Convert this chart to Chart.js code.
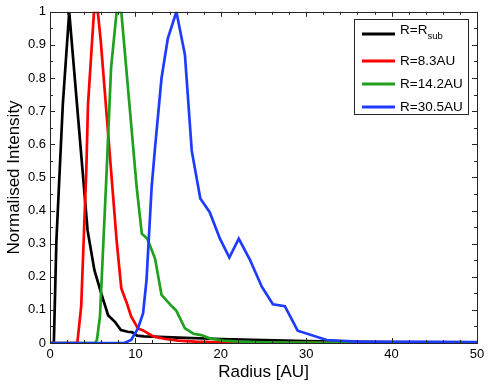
<!DOCTYPE html>
<html>
<head>
<meta charset="utf-8">
<script src="https://cdn.jsdelivr.net/npm/chart.js@4"></script>
<style>
  html, body { margin: 0; padding: 0; background: #fff; }
  #wrap { width: 491px; height: 389px; }
</style>
</head>
<body>
<div id="wrap"><canvas id="myChart"></canvas></div>
<script>
// radius [AU] / normalised intensity
const blackX = [0, 0.45, 0.75, 1.5, 2.25, 4.4, 5.2, 6.0, 6.8, 7.6, 8.3, 9.1, 9.6, 10.2, 11, 12, 15, 20, 25, 30, 40, 50];
const blackY = [0, 0, 0.31, 0.72, 1.0, 0.34, 0.22, 0.15, 0.084, 0.064, 0.039, 0.034, 0.033, 0.022, 0.02, 0.019, 0.016, 0.012, 0.009, 0.006, 0.003, 0.002];

const redX = [0, 3.2, 3.65, 4.25, 4.45, 5.15, 5.6, 5.95, 7.8, 8.35, 9.0, 9.5, 10.3, 10.9, 12.1, 13.5, 15, 17, 20, 25, 50];
const redY = [0, 0, 0.11, 0.52, 0.72, 1.0, 1.0, 0.91, 0.31, 0.165, 0.12, 0.08, 0.044, 0.038, 0.02, 0.012, 0.007, 0.004, 0.002, 0.001, 0];

const greenX = [0, 5.3, 5.5, 5.85, 6.6, 7.15, 7.8, 8.35, 10.15, 10.75, 11.4, 12.3, 13.06, 14.3, 14.8, 15.8, 16.8, 17.7, 18.7, 20.3, 22.2, 25, 30, 50];
const greenY = [0, 0, 0.01, 0.08, 0.5, 0.83, 1.0, 1.0, 0.47, 0.33, 0.315, 0.255, 0.145, 0.11, 0.097, 0.044, 0.028, 0.024, 0.014, 0.007, 0.004, 0.002, 0.001, 0];

const blueX = [0, 8.7, 9.5, 10.3, 10.9, 11.3, 11.6, 11.9, 12.3, 13.06, 13.8, 14.8, 15.8, 16.6, 17.6, 18.7, 19.9, 21.0, 22.1, 23.4, 24.8, 26.1, 27.5, 29.0, 32.4, 36, 50];
const blueY = [0, 0, 0.009, 0.044, 0.09, 0.19, 0.33, 0.47, 0.59, 0.8, 0.92, 1.0, 0.87, 0.58, 0.436, 0.395, 0.315, 0.258, 0.315, 0.252, 0.17, 0.117, 0.111, 0.037, 0.009, 0.004, 0.003];

const seriesNames = ['R=R', 'R=8.3AU', 'R=14.2AU', 'R=30.5AU'];
const seriesSub = ['sub', '', '', ''];
const seriesColors = ['#000000', '#ff0000', '#1fa01f', '#1e3cff'];

function pts(xs, ys) {
    return xs.map((x, i) => ({ x: x, y: ys[i] }));
}

const FONT = 'Liberation Sans, Arial, Helvetica, sans-serif';

// box + inward ticks, matlab style
const axesBox = {
    id: 'axesBox',
    afterDraw(chart) {
        const ctx = chart.ctx;
        const a = chart.chartArea;
        const xs = chart.scales.x, ys = chart.scales.y;
        ctx.save();
        ctx.strokeStyle = '#262626';
        ctx.lineWidth = 1;
        ctx.beginPath();
        for (let v = 0; v <= 50.001; v += 2) {
            const px = Math.round(xs.getPixelForValue(v)) + 0.5;
            const len = (Math.round(v) % 10 === 0) ? 5 : 3;
            ctx.moveTo(px, a.bottom); ctx.lineTo(px, a.bottom - len);
            ctx.moveTo(px, a.top); ctx.lineTo(px, a.top + len);
        }
        for (let i = 0; i <= 20; i++) {
            const py = Math.round(ys.getPixelForValue(i * 0.05)) + 0.5;
            const len = (i % 2 === 0) ? 5 : 3;
            ctx.moveTo(a.left, py); ctx.lineTo(a.left + len, py);
            ctx.moveTo(a.right, py); ctx.lineTo(a.right - len, py);
        }
        ctx.stroke();
        ctx.strokeRect(Math.round(a.left) + 0.5, Math.round(a.top) + 0.5,
            Math.round(a.right - a.left), Math.round(a.bottom - a.top));

        // legend
        const bx = 354.5, by = 19.5, bw = 114, bh = 95;
        ctx.fillStyle = '#fff';
        ctx.fillRect(bx, by, bw, bh);
        ctx.strokeStyle = '#262626';
        ctx.strokeRect(bx, by, bw, bh);
        const rows = [34, 61, 84, 107];
        ctx.textBaseline = 'middle';
        ctx.textAlign = 'left';
        rows.forEach((ry, i) => {
            ctx.strokeStyle = seriesColors[i];
            ctx.lineWidth = 3;
            ctx.beginPath();
            ctx.moveTo(362, ry); ctx.lineTo(395, ry);
            ctx.stroke();
            ctx.fillStyle = '#000';
            ctx.font = '13.5px ' + FONT;
            const ty = seriesSub[i] ? ry - 4 : ry;
            ctx.fillText(seriesNames[i], 400, ty);
            if (seriesSub[i]) {
                const w = ctx.measureText(seriesNames[i]).width;
                ctx.font = '9.5px ' + FONT;
                ctx.fillText(seriesSub[i], 400 + w, ry + 2);
            }
        });
        ctx.restore();
    }
};

const data = {
    datasets: [
        { label: 'R=Rsub', data: pts(blackX, blackY), borderColor: seriesColors[0], order: 3 },
        { label: 'R=8.3AU', data: pts(redX, redY), borderColor: seriesColors[1], order: 2 },
        { label: 'R=14.2AU', data: pts(greenX, greenY), borderColor: seriesColors[2], order: 1 },
        { label: 'R=30.5AU', data: pts(blueX, blueY), borderColor: seriesColors[3], order: 0 }
    ]
};

const config = {
    type: 'line',
    data: data,
    plugins: [axesBox],
    options: {
        responsive: true,
        maintainAspectRatio: false,
        animation: false,
        layout: { padding: { top: 11, right: 14, left: 0, bottom: 0 } },
        elements: {
            line: { borderWidth: 2.7, tension: 0, fill: false },
            point: { radius: 0 }
        },
        plugins: {
            legend: false,
            tooltip: { enabled: false }
        },
        scales: {
            x: {
                type: 'linear',
                min: 0,
                max: 50,
                grid: { display: false, drawTicks: false },
                border: { display: false },
                ticks: { stepSize: 10, color: '#000', padding: 4, font: { family: FONT, size: 13 } },
                title: { display: true, text: 'Radius [AU]', color: '#000', padding: { top: 0, bottom: 6 }, font: { family: FONT, size: 17 } },
                afterFit(scale) { scale.height = 46; }
            },
            y: {
                min: 0,
                max: 1,
                grid: { display: false, drawTicks: false },
                border: { display: false },
                ticks: {
                    stepSize: 0.1, color: '#000', padding: 4, font: { family: FONT, size: 13 },
                    callback: (v) => String(Number(v.toFixed(2)))
                },
                title: { display: true, text: 'Normalised Intensity', color: '#000', padding: { top: 4, bottom: 0 }, font: { family: FONT, size: 17 } },
                afterFit(scale) { scale.width = 50; }
            }
        }
    }
};

const myChart = new Chart(document.getElementById('myChart'), config);
</script>
</body>
</html>
